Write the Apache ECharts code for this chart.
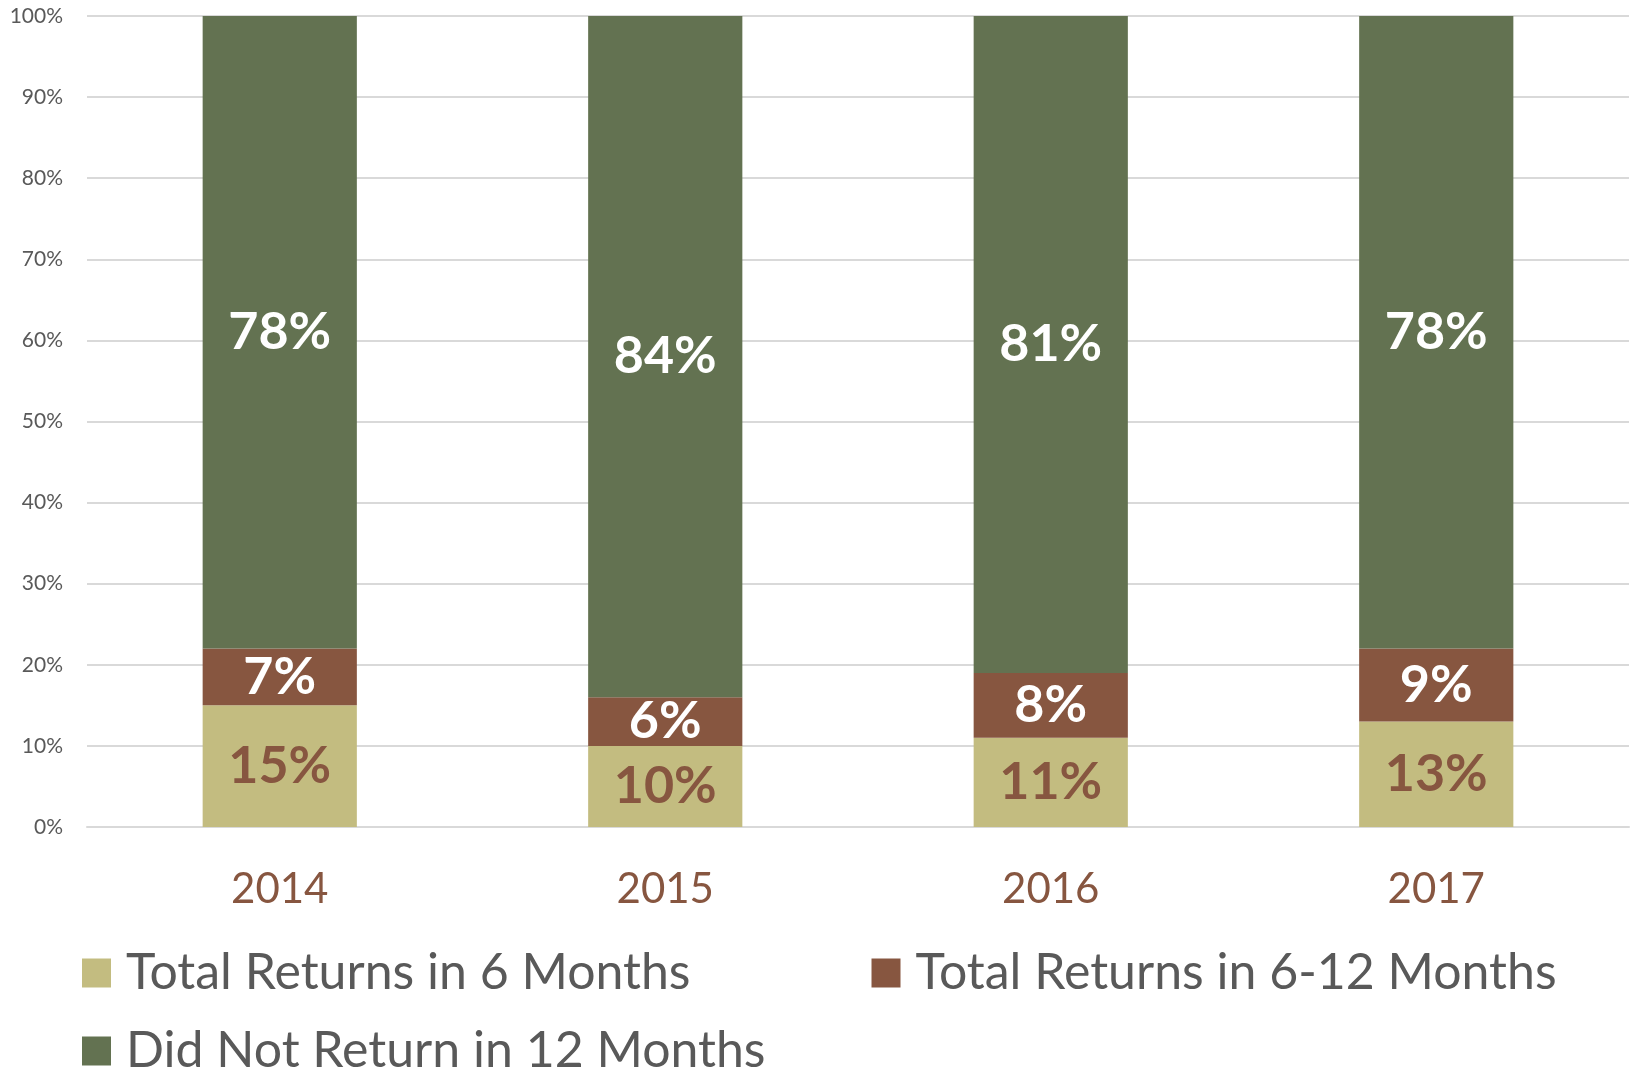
<!DOCTYPE html>
<html>
<head>
<meta charset="utf-8">
<script src="https://cdn.jsdelivr.net/npm/echarts@6/dist/echarts.min.js"></script>
<style>
  html, body { margin: 0; padding: 0; background: #fff; }
  #chart { width: 1632px; height: 1072px; }
</style>
</head>
<body>
<div id="chart"></div>
<script>
const years = ['2014', '2015', '2016', '2017']
const within6 = [15, 10, 11, 13]
const within6to12 = [7, 6, 8, 9]
const notReturned = [78, 84, 81, 78]
const seriesNames = ['Total Returns in 6 Months', 'Total Returns in 6-12 Months', 'Did Not Return in 12 Months']

const font = 'Lato, "Open Sans", sans-serif'
const tan = '#C3BC80'
const brown = '#875640'
const green = '#637251'

const label = color => ({
  show: true,
  position: 'inside',
  formatter: '{c}%',
  color: color,
  fontFamily: font,
  fontWeight: 'bold',
  fontSize: 52
})

const legendText = { fontFamily: font, fontSize: 50, color: '#595959', padding: [0, 0, 0, 10] }

const chart = echarts.init(document.getElementById('chart'))
chart.setOption({
  animation: false,
  grid: { left: 87, right: 3, top: 16, bottom: 245, outerBoundsMode: 'none' },
  legend: [
    {
      data: seriesNames.slice(0, 2),
      left: 82, top: 948, padding: 0, itemWidth: 29, itemHeight: 29, itemGap: 181,
      icon: 'rect', textStyle: legendText
    },
    {
      data: seriesNames.slice(2),
      left: 82, top: 1026, padding: 0, itemWidth: 29, itemHeight: 29,
      icon: 'rect', textStyle: legendText
    }
  ],
  xAxis: {
    type: 'category',
    data: years,
    axisLine: { lineStyle: { color: '#D9D9D9', width: 2 } },
    axisTick: { show: false },
    axisLabel: { color: brown, fontFamily: font, fontSize: 42, margin: 41 }
  },
  yAxis: {
    type: 'value',
    min: 0, max: 100, interval: 10,
    axisLine: { show: false },
    axisTick: { show: false },
    splitLine: { lineStyle: { color: '#D9D9D9', width: 2 } },
    axisLabel: { formatter: '{value}%', color: '#595959', fontFamily: font, fontSize: 21, margin: 24 }
  },
  series: [
    { name: seriesNames[0], type: 'bar', stack: 'all', barWidth: '40%', data: within6, itemStyle: { color: tan }, label: label(brown) },
    { name: seriesNames[1], type: 'bar', stack: 'all', data: within6to12, itemStyle: { color: brown }, label: label('#fff') },
    { name: seriesNames[2], type: 'bar', stack: 'all', data: notReturned, itemStyle: { color: green }, label: label('#fff') }
  ]
})
</script>
</body>
</html>
